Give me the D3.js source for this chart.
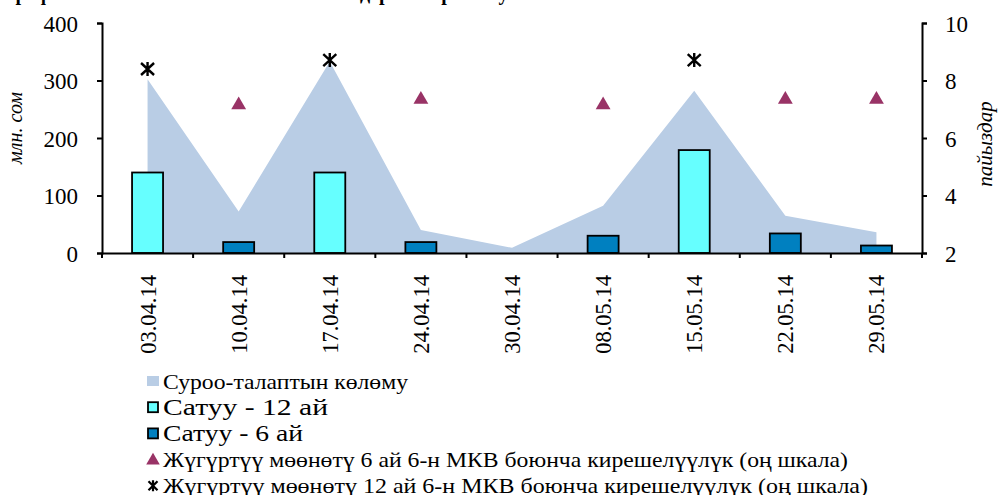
<!DOCTYPE html>
<html>
<head>
<meta charset="utf-8">
<script src="https://cdn.jsdelivr.net/npm/d3@7/dist/d3.min.js"></script>
<style>
  body { margin: 0; background: #fff; }
</style>
</head>
<body>
<svg id="chart" width="998" height="495" font-family="'Liberation Serif', 'Times New Roman', Times, serif"></svg>
<script>
'use strict'

var dates = ["03.04.14", "10.04.14", "17.04.14", "24.04.14", "30.04.14", "08.05.14", "15.05.14", "22.05.14", "29.05.14"]
var demand = [302, 72, 333, 40, 9, 82, 282, 65, 36]
var sale12 = [140, null, 140, null, null, null, 179, null, null]
var sale6 = [null, 19, null, 19, null, 30, null, 34, 13]
var yield6 = [null, 7.15, null, 7.34, null, 7.15, null, 7.34, 7.34]
var yield12 = [8.4, null, 8.71, null, null, null, 8.71, null, null]
var leftTicks = [0, 100, 200, 300, 400]
var rightTicks = [2, 4, 6, 8, 10]
var legendNames = [
  "Суроо-талаптын көлөму",
  "Сатуу - 12 ай",
  "Сатуу - 6 ай",
  "Жүгүртүү мөөнөтү 6 ай 6-н МКВ боюнча кирешелүүлүк (оң шкала)",
  "Жүгүртүү мөөнөтү 12 ай 6-н МКВ боюнча кирешелүүлүк (оң шкала)"
]

var FONT = "'Liberation Serif', 'Times New Roman', Times, serif"
var colors = {
  demand: "#b9cde5",
  sale12: "#66ffff",
  sale6: "#0080c0",
  yield6: "#993366",
  yield12: "#000"
}

var svg = d3.select("#chart")
var plot = { left: 102, right: 922, top: 23, bottom: 253 }

var x = d3.scaleBand().domain(dates).range([plot.left, plot.right])
var yL = d3.scaleLinear().domain([0, 400]).range([plot.bottom, plot.top])
var yR = d3.scaleLinear().domain([2, 10]).range([plot.bottom, plot.top])
var cx = function(d) { return x(d) + x.bandwidth() / 2 }

// title, mostly cut off by the top edge
svg.append("text")
  .attr("x", 4).attr("y", 0)
  .attr("font-family", FONT)
  .attr("font-weight", "bold").attr("font-size", 20)
  .text("График 2. Мамлекеттик казына векселдеринин рыногу")

// demand area
var area = d3.area()
  .x(function(d, i) { return cx(dates[i]) })
  .y0(yL(0))
  .y1(function(d) { return yL(d) })
svg.append("path")
  .datum(demand)
  .attr("d", area)
  .attr("fill", colors.demand)

// bars
var barW = 31
function drawBars(vals, color) {
  svg.append("g").selectAll("rect")
    .data(dates.map(function(d, i) { return { d: d, v: vals[i] } }).filter(function(o) { return o.v != null }))
    .join("rect")
    .attr("x", function(o) { return cx(o.d) - barW / 2 })
    .attr("y", function(o) { return yL(o.v) })
    .attr("width", barW)
    .attr("height", function(o) { return yL(0) - yL(o.v) })
    .attr("fill", color)
    .attr("stroke", "#000")
    .attr("stroke-width", 1.8)
}
drawBars(sale12, colors.sale12)
drawBars(sale6, colors.sale6)

// axes
var axL = svg.append("g")
  .attr("transform", "translate(" + plot.left + ",0)")
  .call(d3.axisLeft(yL).tickValues(leftTicks).tickSize(5).tickPadding(19))
var axR = svg.append("g")
  .attr("transform", "translate(" + plot.right + ",0)")
  .call(d3.axisRight(yR).tickValues(rightTicks).tickSize(5).tickPadding(18))
var axB = svg.append("g")
  .attr("transform", "translate(0," + plot.bottom + ")")
  .call(d3.axisBottom(x).tickValues([]).tickSizeOuter(0))

// bottom ticks at category borders
svg.append("g").selectAll("line")
  .data(dates.concat(["end"]))
  .join("line")
  .attr("x1", function(d, i) { return plot.left + i * x.bandwidth() })
  .attr("x2", function(d, i) { return plot.left + i * x.bandwidth() })
  .attr("y1", plot.bottom)
  .attr("y2", plot.bottom + 5)
  .attr("stroke", "#000").attr("stroke-width", 2)

;[axL, axR, axB].forEach(function(a) {
  a.attr("font-family", FONT)
  a.select(".domain").attr("stroke", "#000").attr("stroke-width", 2)
  a.selectAll(".tick line").attr("stroke", "#000").attr("stroke-width", 2)
  a.selectAll("text").attr("font-family", FONT).attr("font-size", 23).attr("fill", "#000")
})
axL.selectAll(".tick text").attr("dy", "0.35em")
axR.selectAll(".tick text").attr("dy", "0.35em")

// rotated date labels
svg.append("g").selectAll("text")
  .data(dates)
  .join("text")
  .attr("transform", function(d) { return "translate(" + (cx(d) + 8) + "," + (plot.bottom + 22) + ") rotate(-90)" })
  .attr("text-anchor", "end")
  .attr("font-family", FONT)
  .attr("font-size", 22.5)
  .text(function(d) { return d })

// axis titles
svg.append("text")
  .attr("transform", "translate(22,128) rotate(-90)")
  .attr("text-anchor", "middle")
  .attr("font-family", FONT)
  .attr("font-style", "italic").attr("font-size", 20)
  .text("млн. сом")
svg.append("text")
  .attr("transform", "translate(992,144) rotate(-90)")
  .attr("text-anchor", "middle")
  .attr("font-family", FONT)
  .attr("font-style", "italic").attr("font-size", 21)
  .text("пайыздар")

// markers
var tri = d3.symbol().type(d3.symbolTriangle).size(95)
var starPath = "M-6.5,-6L6.5,6M-6.5,6L6.5,-6M0,-7L0,7"

svg.append("g").selectAll("path")
  .data(dates.map(function(d, i) { return { d: d, v: yield6[i] } }).filter(function(o) { return o.v != null }))
  .join("path")
  .attr("d", tri)
  .attr("transform", function(o) { return "translate(" + cx(o.d) + "," + yR(o.v) + ")" })
  .attr("fill", colors.yield6)

svg.append("g").selectAll("path")
  .data(dates.map(function(d, i) { return { d: d, v: yield12[i] } }).filter(function(o) { return o.v != null }))
  .join("path")
  .attr("d", starPath)
  .attr("transform", function(o) { return "translate(" + cx(o.d) + "," + yR(o.v) + ")" })
  .attr("stroke", colors.yield12)
  .attr("stroke-width", 2.4)
  .attr("fill", "none")

// legend (the reference text runs wide, so each row is fitted to its width)
var legendWidths = [245, 165, 140, 685, 705]
var lg = svg.append("g").attr("transform", "translate(153,381)")
var rowH = 26.2
legendNames.forEach(function(name, i) {
  var g = lg.append("g").attr("transform", "translate(0," + (i * rowH) + ")")
  if (i == 0) {
    g.append("rect").attr("x", -6).attr("y", -5).attr("width", 12).attr("height", 10).attr("fill", colors.demand)
  } else if (i == 1 || i == 2) {
    g.append("rect").attr("x", -5).attr("y", -5).attr("width", 10).attr("height", 10)
      .attr("fill", i == 1 ? colors.sale12 : colors.sale6)
      .attr("stroke", "#000").attr("stroke-width", 1.8)
  } else if (i == 3) {
    g.append("path").attr("d", d3.symbol().type(d3.symbolTriangle).size(80)).attr("transform", "translate(0,1)").attr("fill", colors.yield6)
  } else {
    g.append("path").attr("d", "M-4.5,-4.5L4.5,4.5M-4.5,4.5L4.5,-4.5M0,-5.5L0,5.5").attr("stroke", "#000").attr("stroke-width", 2.2)
  }
  g.append("text")
    .attr("x", 10).attr("y", 7.5)
    .attr("font-family", FONT)
    .attr("font-size", i == 1 || i == 2 ? 23 : 22)
    .attr("textLength", legendWidths[i])
    .attr("lengthAdjust", "spacingAndGlyphs")
    .text(name)
})
</script>
</body>
</html>
